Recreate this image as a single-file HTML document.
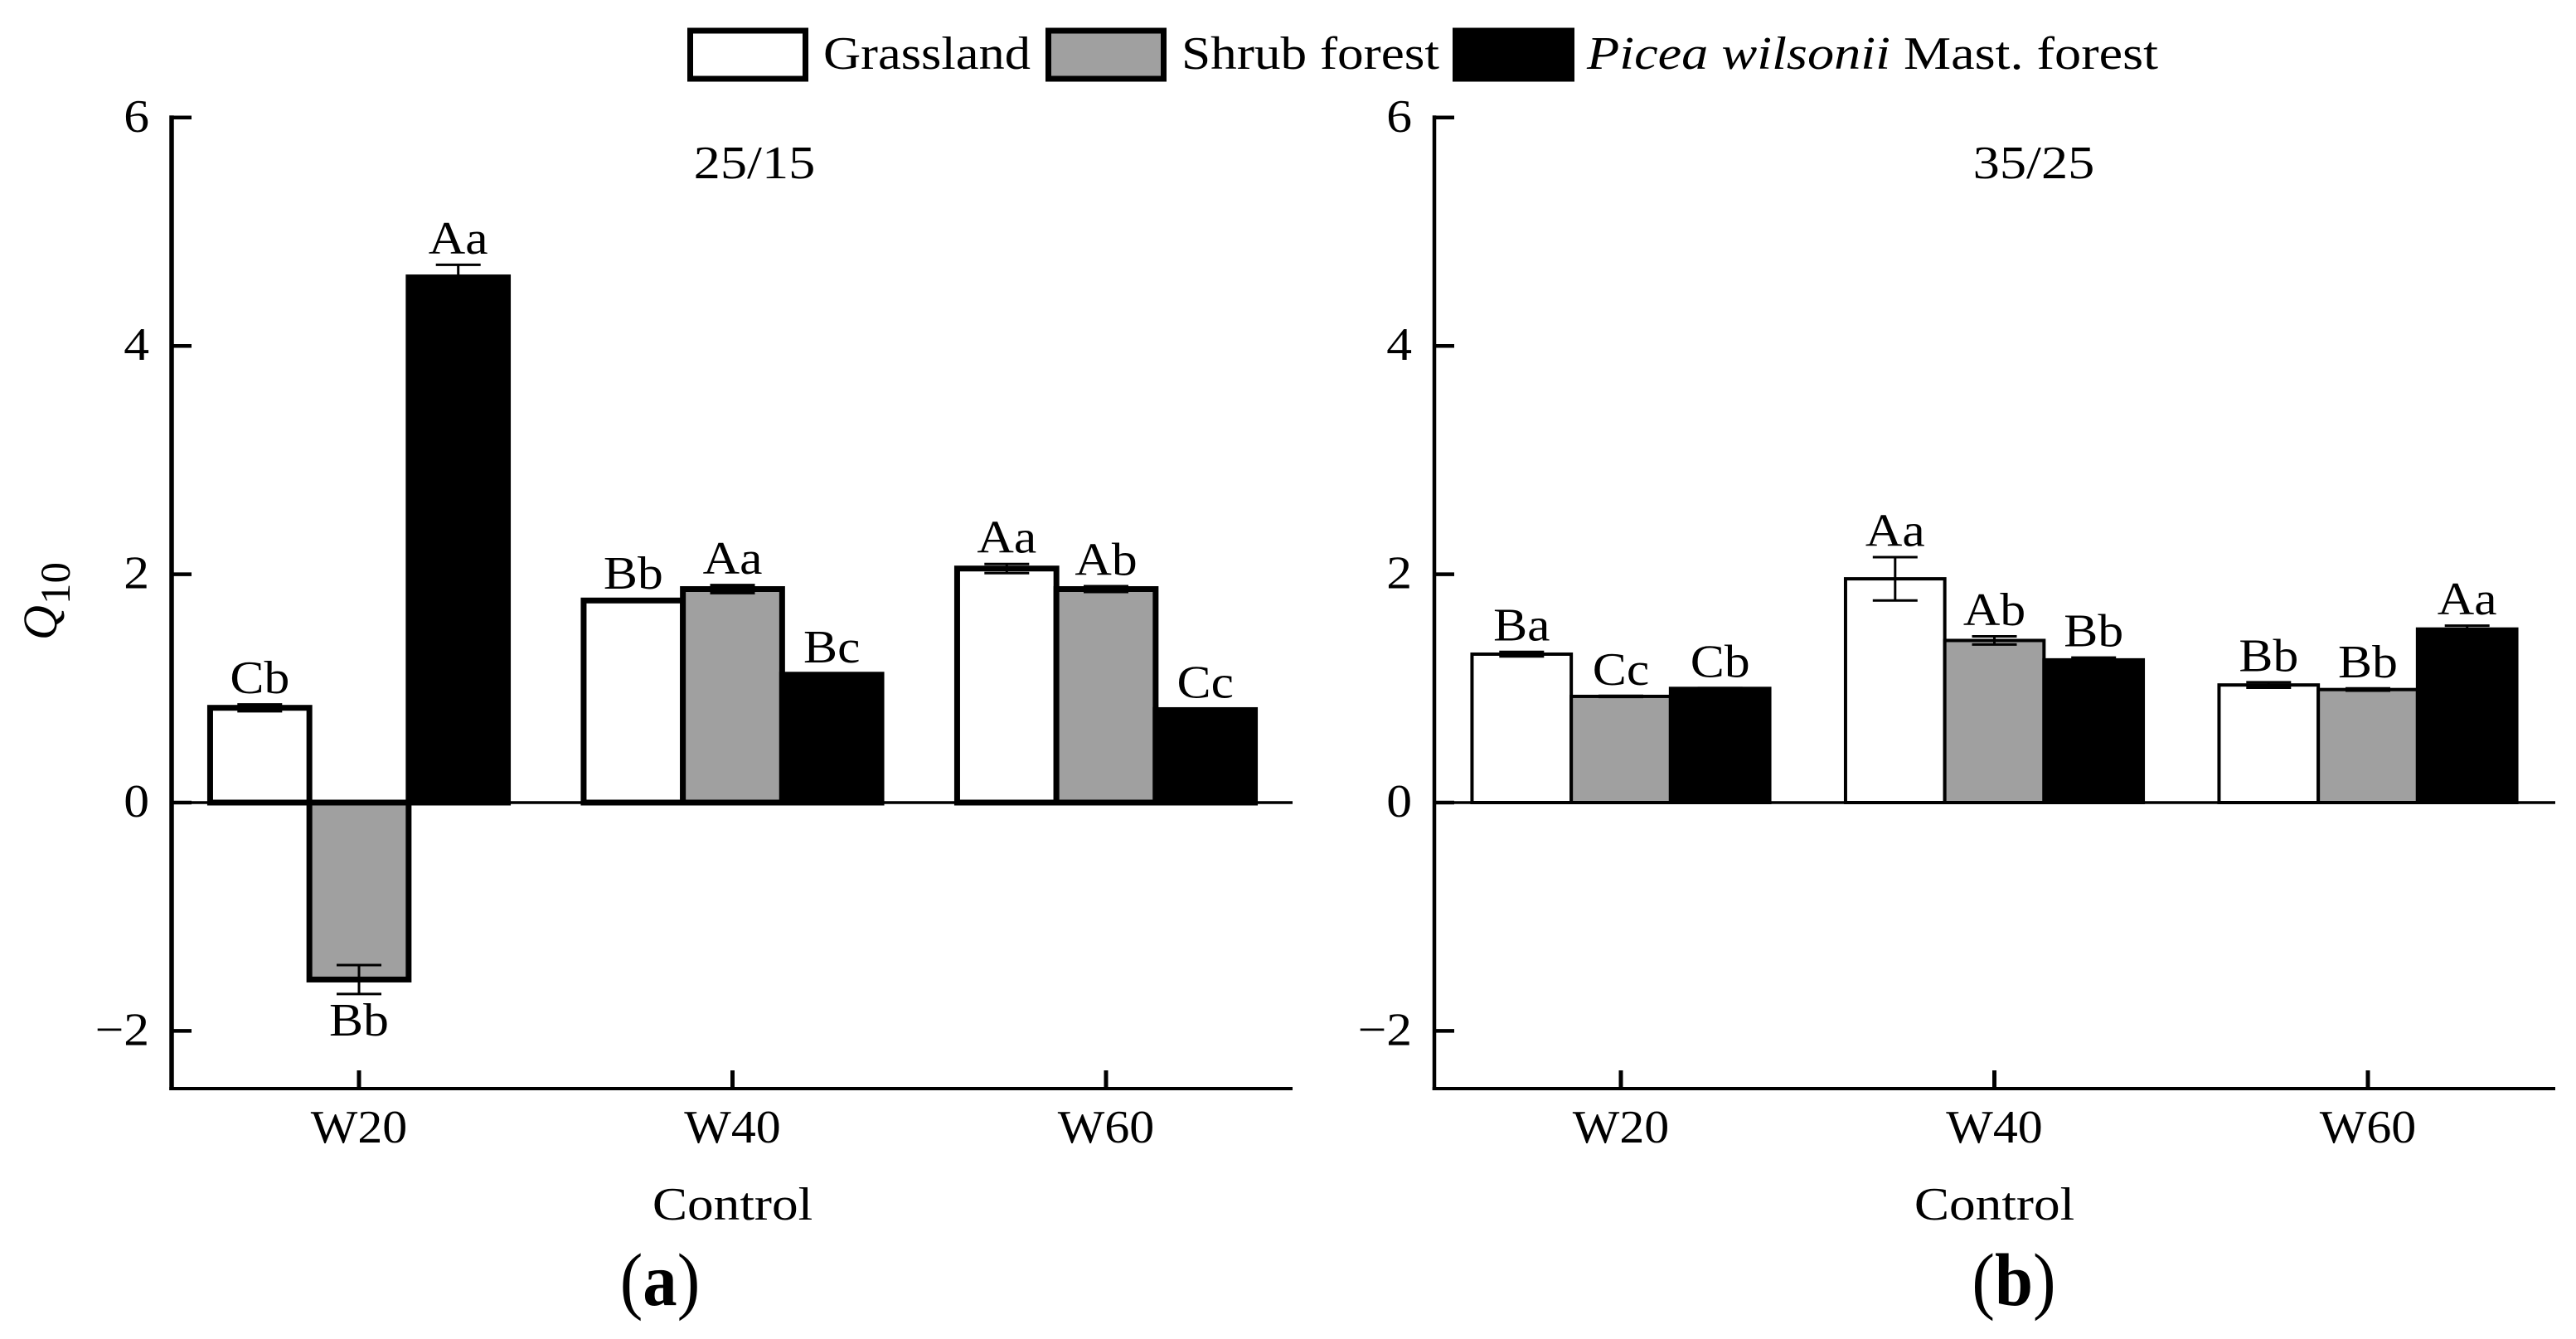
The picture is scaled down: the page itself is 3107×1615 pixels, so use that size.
<!DOCTYPE html>
<html lang="en">
<head>
<meta charset="utf-8">
<title>Q10 by land-use type</title>
<style>
html,body{margin:0;padding:0;background:#fff;}
svg{display:block;}
text{font-family:"Liberation Serif","Times New Roman",serif;fill:#000;}
</style>
</head>
<body>
<svg id="chart" xmlns="http://www.w3.org/2000/svg" width="3107" height="1615" viewBox="0 0 3107 1615">
  <rect x="0" y="0" width="3107" height="1615" fill="#fff"/>
  <g>
    <g>
      <rect x="832.5" y="37" width="139" height="58" fill="#fff" stroke="#000" stroke-width="7"/>
      <text x="993" y="83" font-size="56" textLength="250" lengthAdjust="spacingAndGlyphs">Grassland</text>
    </g>
    <g>
      <rect x="1264.5" y="37" width="139" height="58" fill="#a0a0a0" stroke="#000" stroke-width="7"/>
      <text x="1425" y="83" font-size="56" textLength="311" lengthAdjust="spacingAndGlyphs">Shrub forest</text>
    </g>
    <g>
      <rect x="1755.5" y="37" width="140" height="58" fill="#000" stroke="#000" stroke-width="7"/>
      <text x="1914" y="83" font-size="56" textLength="689" lengthAdjust="spacingAndGlyphs"><tspan font-style="italic">Picea wilsonii</tspan> Mast. forest</text>
    </g>
  </g>
  <g>
    <text transform="translate(68,772) rotate(-90)" font-size="58" font-style="italic">Q</text>
    <text transform="translate(84,729) rotate(-90)" font-size="51">10</text>
  </g>
</svg>
<script>
var categories = ["W20", "W40", "W60"];
var yTickValues = [6, 4, 2, 0, -2];
var yTickLabels = ["6", "4", "2", "0", "\u22122"];

var panelATitle = "25/15";
var panelAGrassland = [0.83, 1.77, 2.05];
var panelAShrub = [-1.55, 1.87, 1.87];
var panelAPicea = [4.60, 1.12, 0.81];
var panelAGrasslandErr = [0.03, 0.005, 0.04];
var panelAShrubErr = [0.127, 0.035, 0.025];
var panelAPiceaErr = [0.11, 0.01, 0.01];
var panelAGrasslandSig = ["Cb", "Bb", "Aa"];
var panelAShrubSig = ["Bb", "Aa", "Ab"];
var panelAPiceaSig = ["Aa", "Bc", "Cc"];

var panelBTitle = "35/25";
var panelBGrassland = [1.30, 1.96, 1.03];
var panelBShrub = [0.93, 1.42, 0.99];
var panelBPicea = [1.00, 1.25, 1.52];
var panelBGrasslandErr = [0.02, 0.19, 0.024];
var panelBShrubErr = [0.005, 0.036, 0.01];
var panelBPiceaErr = [0.003, 0.02, 0.03];
var panelBGrasslandSig = ["Ba", "Aa", "Bb"];
var panelBShrubSig = ["Cc", "Ab", "Bb"];
var panelBPiceaSig = ["Cb", "Bb", "Aa"];

var SVG_NS = "http://www.w3.org/2000/svg";
var svg = document.getElementById("chart");
var Y_ZERO = 968, Y_UNIT = 137.7, BAR_W = 119.7, TEXT_SX = 1.1;

function y(v) { return Y_ZERO - v * Y_UNIT; }

function make(tag, attrs, parent) {
  var node = document.createElementNS(SVG_NS, tag);
  for (var k in attrs) { node.setAttribute(k, attrs[k]); }
  parent.appendChild(node);
  return node;
}

function label(parent, str, tx, ty, anchor, size, sx) {
  var t = make("text", {
    transform: "translate(" + tx + "," + ty + ") scale(" + sx + ",1)",
    "text-anchor": anchor,
    "font-size": size
  }, parent);
  t.textContent = str;
  return t;
}

function drawPanel(p) {
  var g = make("g", {}, svg);
  
  
  var axisX = p.axisX, axisEnd = axisX + 1352, axisW = p.axisWidth;
  function xc(i) { return p.start + i * p.pitch; }

  var title = label(g, p.title, p.titleX, 215, "middle", 56, 1.15);
  
  

  var series = [
    { key: "grassland", v: p.grass, e: p.grassErr, s: p.grassSig, fill: "#fff", off: -1 },
    { key: "shrub", v: p.shrub, e: p.shrubErr, s: p.shrubSig, fill: "#a0a0a0", off: 0 },
    { key: "picea", v: p.picea, e: p.piceaErr, s: p.piceaSig, fill: "#000", off: 1 }
  ];

  var zero = make("line", { x1: axisX, x2: axisEnd, y1: y(0), y2: y(0), stroke: "#000", "stroke-width": 3.5 }, g);
  
  

  series.forEach(function (sr) {
    sr.v.forEach(function (val, i) {
      var cx = xc(i) + sr.off * BAR_W;
      var top = Math.min(y(val), y(0));
      var h = Math.abs(y(val) - y(0));
      var bar = make("rect", { x: cx - BAR_W / 2, y: top, width: BAR_W, height: h, fill: sr.fill, stroke: "#000", "stroke-width": p.barStroke }, g);
      
      
    });
  });

  series.forEach(function (sr) {
    sr.v.forEach(function (val, i) {
      var cx = xc(i) + sr.off * BAR_W;
      var err = sr.e[i];
      var hi = y(val + err), lo = y(val - err);
      var stem = make("line", { x1: cx, x2: cx, y1: hi, y2: lo, stroke: "#000", "stroke-width": 3 }, g);
      
      
      var capTop = make("line", { x1: cx - 27, x2: cx + 27, y1: hi, y2: hi, stroke: "#000", "stroke-width": 3 }, g);
      
      
      var capBot = make("line", { x1: cx - 27, x2: cx + 27, y1: lo, y2: lo, stroke: "#000", "stroke-width": 3 }, g);
      
      
      var ty = val < 0 ? lo + 50 : hi - 13.5;
      var sig = label(g, sr.s[i], cx, ty, "middle", 56, TEXT_SX);
      
      
    });
  });

  var yAxis = make("line", { x1: axisX, x2: axisX, y1: y(6) - 2.5, y2: 1315, stroke: "#000", "stroke-width": axisW }, g);
  
  
  var xAxis = make("line", { x1: axisX - axisW / 2, x2: axisEnd, y1: 1313, y2: 1313, stroke: "#000", "stroke-width": 4 }, g);
  
  

  yTickValues.forEach(function (tv, i) {
    var tick = make("line", { x1: axisX, x2: axisX + 24, y1: y(tv), y2: y(tv), stroke: "#000", "stroke-width": 4.5 }, g);
    
    
    var tl = label(g, yTickLabels[i], axisX - 27, y(tv) + 17, "end", 56, TEXT_SX);
    
    
  });

  categories.forEach(function (c, i) {
    var tick = make("line", { x1: xc(i), x2: xc(i), y1: 1291, y2: 1313, stroke: "#000", "stroke-width": 5 }, g);
    
    
    var tl = label(g, c, xc(i), 1378, "middle", 56, 1.07);
    
    
  });

  var xTitle = label(g, "Control", p.start + p.pitch, 1471, "middle", 56, 1.13);
  
  

  var tag = make("text", {
    transform: "translate(" + p.tagX + ",1574) scale(0.92,1)",
    "text-anchor": "middle",
    "font-size": 90
  }, g);
  
  
  tag.appendChild(document.createTextNode("("));
  var bold = make("tspan", { "font-weight": "bold" }, tag);
  bold.textContent = p.tag;
  tag.appendChild(document.createTextNode(")"));
}

drawPanel({
  id: "panel-a", title: panelATitle, titleX: 910, tag: "a", tagX: 796,
  axisX: 207, axisWidth: 5.5, barStroke: 7, start: 433, pitch: 450.5,
  grass: panelAGrassland, shrub: panelAShrub, picea: panelAPicea,
  grassErr: panelAGrasslandErr, shrubErr: panelAShrubErr, piceaErr: panelAPiceaErr,
  grassSig: panelAGrasslandSig, shrubSig: panelAShrubSig, piceaSig: panelAPiceaSig
});

drawPanel({
  id: "panel-b", title: panelBTitle, titleX: 2453, tag: "b", tagX: 2429,
  axisX: 1730, axisWidth: 4.5, barStroke: 4, start: 1955, pitch: 450.5,
  grass: panelBGrassland, shrub: panelBShrub, picea: panelBPicea,
  grassErr: panelBGrasslandErr, shrubErr: panelBShrubErr, piceaErr: panelBPiceaErr,
  grassSig: panelBGrasslandSig, shrubSig: panelBShrubSig, piceaSig: panelBPiceaSig
});
</script>
</body>
</html>
